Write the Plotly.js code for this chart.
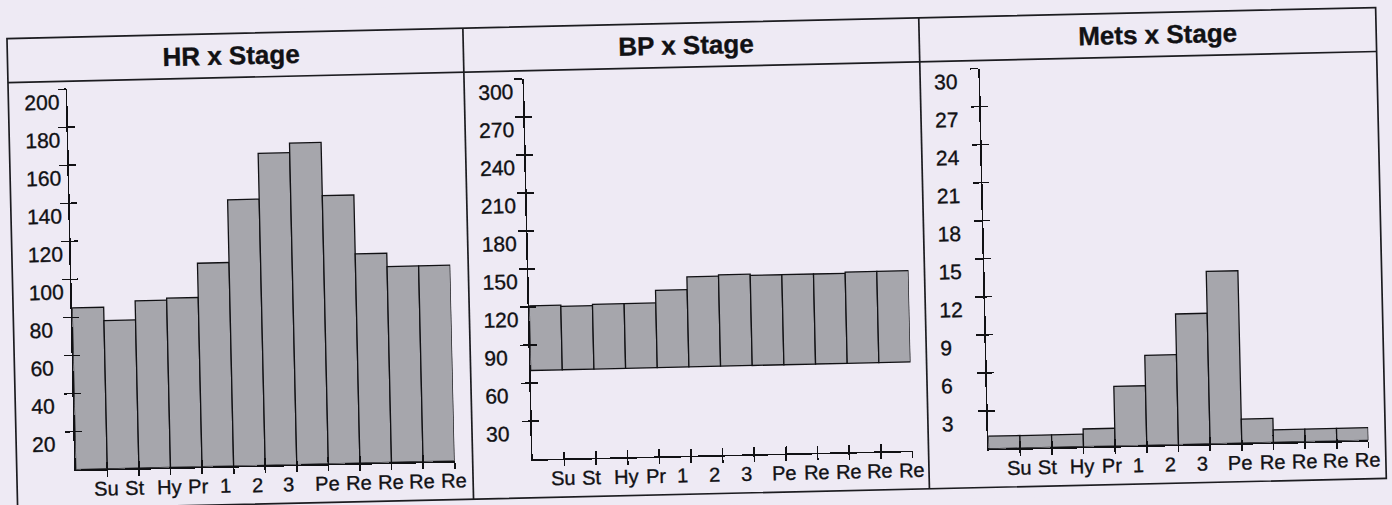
<!DOCTYPE html>
<html>
<head>
<meta charset="utf-8">
<script src="https://cdn.plot.ly/plotly-3.0.1.min.js"></script>
<style>
  html, body { margin: 0; padding: 0; background: #eeeaf4; overflow: hidden; }
  #wrap { width: 1392px; height: 505px; transform: rotate(-1.3deg); transform-origin: 696px 252.5px; }
  #chart { width: 1392px; height: 505px; }
  #chart .annotation-text { stroke: #111114; stroke-width: 0.35px; }
</style>
</head>
<body>
<div id="wrap"><div id="chart"></div></div>
<script>
// ---- data ----
const stages = ["Su", "St", "Hy", "Pr", "1", "2", "3", "Pe", "Re", "Re", "Re", "Re"];
const hrValues = [85, 78, 88, 89, 107, 140, 164, 169, 141, 110, 103, 103];
const bpSystolic = [121, 120, 121, 121, 131, 141, 142, 141, 141, 141, 142, 142];
const bpDiastolic = [70, 70, 70, 70, 70, 70, 70, 70, 70, 70, 70, 70];
const metsValues = [1.0, 1.0, 1.0, 1.4, 4.7, 7.1, 10.3, 13.6, 1.9, 1.0, 1.0, 1.0];
const hrTicks = [20, 40, 60, 80, 100, 120, 140, 160, 180, 200];
const bpTicks = [30, 60, 90, 120, 150, 180, 210, 240, 270, 300];
const metsTicks = [3, 6, 9, 12, 15, 18, 21, 24, 27, 30];
const titles = ["HR x Stage", "BP x Stage", "Mets x Stage"];

// ---- geometry / style ----
const W = 1392, H = 505;
const fx = x => x / W;
const fy = y => 1 - y / H;
const INK = "#111114";
const BAR = "#a6a6ac";
const FONT = "Liberation Sans, Arial, sans-serif";

const panels = [
  { xd: [71, 450], labX: 26, titleX: 236, ymax: 200, ticks: hrTicks },
  { xd: [528, 908], labX: 480, titleX: 690, ymax: 300, ticks: bpTicks },
  { xd: [984, 1364], labX: 936, titleX: 1162, ymax: 30, ticks: metsTicks }
];
const yDom = [fy(455.5), fy(75)];

const idx = stages.map((_, i) => i + 0.5);
const tickPos = stages.map((_, i) => i + 1);

const barStyle = { color: BAR, line: { color: INK, width: 1.3 } };
const traces = [
  { type: "bar", x: idx, y: hrValues, width: 1, marker: barStyle, xaxis: "x", yaxis: "y", hoverinfo: "skip" },
  { type: "bar", x: idx, y: bpSystolic.map((s, i) => s - bpDiastolic[i]), base: bpDiastolic, width: 1, marker: barStyle, xaxis: "x2", yaxis: "y2", hoverinfo: "skip" },
  { type: "bar", x: idx, y: metsValues, width: 1, marker: barStyle, xaxis: "x3", yaxis: "y3", hoverinfo: "skip" }
];
// empty helper traces so the tick-only overlay axes (inner half of the crossing ticks) get drawn
[4, 5, 6].forEach(o => traces.push({ type: "scatter", mode: "markers", x: [null], y: [null], xaxis: "x" + o, yaxis: "y" + o, hoverinfo: "skip", showlegend: false }));

const layout = {
  width: W, height: H,
  margin: { l: 0, r: 0, t: 0, b: 0 },
  paper_bgcolor: "#eeeaf4",
  plot_bgcolor: "rgba(0,0,0,0)",
  showlegend: false,
  annotations: [],
  shapes: []
};

panels.forEach((p, k) => {
  const n = k + 1, o = k + 4;
  const sx = n === 1 ? "" : String(n);
  layout["xaxis" + sx] = {
    domain: [fx(p.xd[0]), fx(p.xd[1])], anchor: "y" + sx, range: [0, 12],
    showgrid: false, zeroline: false, showline: true, linecolor: INK, linewidth: 1.6,
    tickmode: "array", tickvals: tickPos, ticks: "outside", ticklen: 6, tickwidth: 1.6, tickcolor: INK,
    showticklabels: false, fixedrange: true
  };
  layout["yaxis" + sx] = {
    domain: yDom, anchor: "x" + sx, range: [0, p.ymax],
    showgrid: false, zeroline: false, showline: true, linecolor: INK, linewidth: 1.6,
    tickmode: "array", tickvals: p.ticks, ticks: "outside", ticklen: 8, tickwidth: 1.6, tickcolor: INK,
    showticklabels: false, fixedrange: true
  };
  layout["xaxis" + o] = {
    overlaying: "x" + sx, anchor: "y" + sx, range: [0, 12],
    showgrid: false, zeroline: false, showline: false,
    tickmode: "array", tickvals: tickPos, ticks: "inside", ticklen: 7, tickwidth: 1.6, tickcolor: INK,
    showticklabels: false, fixedrange: true
  };
  layout["yaxis" + o] = {
    overlaying: "y" + sx, anchor: "x" + sx, range: [0, p.ymax],
    showgrid: false, zeroline: false, showline: false,
    tickmode: "array", tickvals: p.ticks, ticks: "inside", ticklen: 7, tickwidth: 1.6, tickcolor: INK,
    showticklabels: false, fixedrange: true
  };

  // y tick labels (left aligned, sitting just under each tick)
  p.ticks.forEach(v => {
    layout.annotations.push({
      xref: "paper", yref: "y" + sx, x: fx(p.labX), y: v, text: String(v),
      xanchor: "left", yanchor: "middle", yshift: -12.5, showarrow: false,
      font: { family: FONT, size: 21, color: INK }
    });
  });
  // x tick labels (left aligned, starting just left of each tick)
  stages.forEach((s, i) => {
    layout.annotations.push({
      xref: "x" + sx, yref: "y" + sx, x: tickPos[i], y: 0, text: s,
      xanchor: "left", yanchor: "middle", xshift: -16, yshift: -19.5, showarrow: false,
      font: { family: FONT, size: 20, color: INK }
    });
  });
  // panel title
  layout.annotations.push({
    xref: "paper", yref: "paper", x: fx(p.titleX), y: fy(45), text: titles[k],
    xanchor: "center", yanchor: "middle", showarrow: false,
    font: { family: FONT, size: 26, color: INK, weight: "bold" }
  });
});

// frame of the printed table
const frameLine = { color: "#1c1c20", width: 1.7 };
layout.shapes.push({ type: "rect", xref: "paper", yref: "paper", x0: fx(12), x1: fx(1381), y0: fy(494), y1: fy(23), line: frameLine });
layout.shapes.push({ type: "line", xref: "paper", yref: "paper", x0: fx(12), x1: fx(1381), y0: fy(67), y1: fy(67), line: frameLine });
[468, 924].forEach(x => layout.shapes.push({ type: "line", xref: "paper", yref: "paper", x0: fx(x), x1: fx(x), y0: fy(494), y1: fy(23), line: frameLine }));

Plotly.newPlot("chart", traces, layout, { staticPlot: true, displayModeBar: false });
</script>
</body>
</html>
